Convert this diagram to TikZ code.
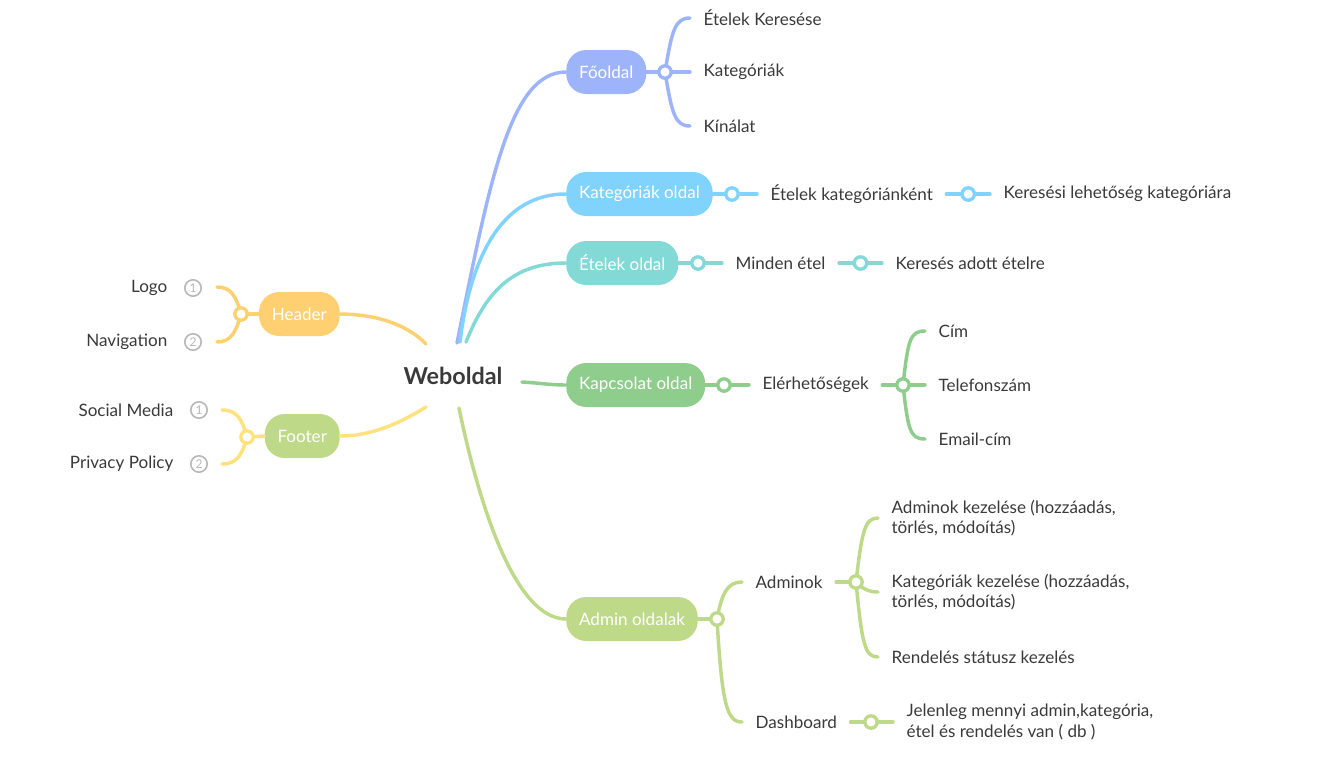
\documentclass[tikz,border=0pt]{standalone}
\usepackage{fontspec}
\setmainfont{Lato}
\usetikzlibrary{calc}
\definecolor{cBlue}{HTML}{9DB4FB}
\definecolor{cSky}{HTML}{80D3FD}
\definecolor{cTeal}{HTML}{82D9D6}
\definecolor{cGreen}{HTML}{8FCD8D}
\definecolor{cLime}{HTML}{BED987}
\definecolor{cOrange}{HTML}{FFD072}
\definecolor{cYellow}{HTML}{FFE17D}
\definecolor{txt}{HTML}{3A3A3A}
\definecolor{numgray}{HTML}{B8B8B8}
\begin{document}
\begin{tikzpicture}[x=0.75pt,y=-0.75pt,
  lbl/.style={font=\fontsize{12.8}{15.5}\selectfont},
  pill/.style={lbl, rounded corners=15pt, minimum height=33pt, inner xsep=9.6pt, text=white},
  leaf/.style={lbl, text=txt, inner xsep=10pt, inner ysep=2pt, align=left},
  conn/.style={line width=2.6pt, line cap=round},
  knob/.style={circle, draw, fill=white, line width=2.5pt, minimum size=9.3pt, inner sep=0pt},
  num/.style={circle, draw=numgray, line width=1.2pt, minimum size=12.3pt, inner sep=0pt, text=numgray, font=\fontsize{9}{9}\selectfont}]
\useasboundingbox (0,0) rectangle (1337,776);

% root
\node[font=\fontsize{17.5}{20}\bfseries\selectfont, text=txt] (web) at (453,376) {Weboldal};
\coordinate (rFo) at (457,343);
\coordinate (rKat) at (460,342);
\coordinate (rEt) at (466,342);
\coordinate (rKap) at (522,382);
\coordinate (rAdm) at (459,408);
\coordinate (rHdr) at (426,344);
\coordinate (rFtr) at (426,407);

% main nodes
\node[pill, fill=cBlue, anchor=west] (fo) at (566,72) {Főoldal};
\node[pill, fill=cSky, anchor=west] (kat) at (566,194) {Kategóriák oldal};
\node[pill, fill=cTeal, anchor=west] (et) at (566,263) {Ételek oldal};
\node[pill, fill=cGreen, anchor=west] (kap) at (566,385) {Kapcsolat oldal};
\node[pill, fill=cLime, anchor=west] (adm) at (566,619) {Admin oldalak};
\node[pill, fill=cOrange, anchor=east] (hdr) at (340,314) {Header};
\node[pill, fill=cLime, anchor=east] (ftr) at (340,436) {Footer};

% root connectors
\draw[conn, cBlue] (rFo) .. controls (490,180) and (510,72) .. (fo.west);
\draw[conn, cSky] (rKat) .. controls (470,260) and (500,194) .. (kat.west);
\draw[conn, cTeal] (rEt) .. controls (485,295) and (510,263) .. (et.west);
\draw[conn, cGreen] (rKap) .. controls (540,383) and (550,385) .. (kap.west);
\draw[conn, cLime] (rAdm) .. controls (478,500) and (514,619) .. (adm.west);
\draw[conn, cOrange] (hdr.east) .. controls (370,314) and (405,322) .. (rHdr);
\draw[conn, cYellow] (ftr.east) .. controls (375,436) and (405,420) .. (rFtr);

% Header
\node[lbl, text=txt, anchor=east] (logo) at (172,288) {Logo};
\node[num] (n1) at (193,288) {1};
\node[lbl, text=txt, anchor=east] (nav) at (172,342) {Navigation};
\node[num] (n2) at (193,342) {2};
\coordinate (hLogo) at (217,287);
\coordinate (hNav) at (217,342);
\coordinate (hk) at (241,314);
\draw[conn, cOrange] (hdr.west) -- (hk);
\draw[conn, cOrange] (hk) .. controls (236,296) and (231,287) .. (hLogo);
\draw[conn, cOrange] (hk) .. controls (236,332) and (231,342) .. (hNav);
\node[knob, draw=cOrange] (hknob) at (hk) {};

% Footer
\node[lbl, text=txt, anchor=east] (soc) at (178,410) {Social Media};
\node[num] (n3) at (199,410) {1};
\node[lbl, text=txt, anchor=east] (priv) at (178,464) {Privacy Policy};
\node[num] (n4) at (199,464) {2};
\coordinate (fSoc) at (222,410);
\coordinate (fPriv) at (222,464);
\coordinate (fk) at (247,437);
\draw[conn, cYellow] (ftr.west) -- (fk);
\draw[conn, cYellow] (fk) .. controls (242,419) and (237,410) .. (fSoc);
\draw[conn, cYellow] (fk) .. controls (242,455) and (237,464) .. (fPriv);
\node[knob, draw=cYellow] (fknob) at (fk) {};

% Főoldal
\node[leaf, anchor=west] (fo1) at (690,18) {Ételek Keresése};
\node[leaf, anchor=west] (fo2) at (690,72) {Kategóriák};
\node[leaf, anchor=west] (fo3) at (690,126) {Kínálat};
\coordinate (fok) at (665,72);
\draw[conn, cBlue] (fo.east) -- (fo2.west);
\draw[conn, cBlue] (fok) .. controls (672,30) and (675,18) .. (fo1.west);
\draw[conn, cBlue] (fok) .. controls (672,114) and (675,126) .. (fo3.west);
\node[knob, draw=cBlue] (foknob) at (fok) {};

% Kategóriák oldal
\node[leaf, anchor=west] (kat1) at (757,194) {Ételek kategóriánként};
\node[leaf, anchor=west] (kat2) at (990,194) {Keresési lehetőség kategóriára};
\draw[conn, cSky] (kat.east) -- (kat1.west);
\draw[conn, cSky] (kat1.east) -- (kat2.west);
\node[knob, draw=cSky] (katk1) at (732,194) {};
\node[knob, draw=cSky] (katk2) at ($(kat1.east)!0.5!(kat2.west)$) {};

% Ételek oldal
\node[leaf, anchor=west] (et1) at (722,263) {Minden étel};
\node[leaf, anchor=west] (et2) at (882,263) {Keresés adott ételre};
\draw[conn, cTeal] (et.east) -- (et1.west);
\draw[conn, cTeal] (et1.east) -- (et2.west);
\node[knob, draw=cTeal] (etk1) at (698,263) {};
\node[knob, draw=cTeal] (etk2) at ($(et1.east)!0.5!(et2.west)$) {};

% Kapcsolat oldal
\node[leaf, anchor=west] (kap1) at (749,385) {Elérhetőségek};
\node[leaf, anchor=west] (kc1) at (925,331) {Cím};
\node[leaf, anchor=west] (kc2) at (925,385) {Telefonszám};
\node[leaf, anchor=west] (kc3) at (925,439) {Email-cím};
\coordinate (kapk) at (903,385);
\draw[conn, cGreen] (kap.east) -- (kap1.west);
\draw[conn, cGreen] (kap1.east) -- (kc2.west);
\draw[conn, cGreen] (kapk) .. controls (908,340) and (910,331) .. (kc1.west);
\draw[conn, cGreen] (kapk) .. controls (908,430) and (910,439) .. (kc3.west);
\node[knob, draw=cGreen] (kapk1) at (724,385) {};
\node[knob, draw=cGreen] (kapk2) at (kapk) {};

% Admin oldalak
\node[leaf, anchor=west] (ad1) at (742,582) {Adminok};
\node[leaf, anchor=west] (ad2) at (742,722) {Dashboard};
\coordinate (admk) at (717,619);
\draw[conn, cLime] (adm.east) -- (admk);
\draw[conn, cLime] (admk) .. controls (722,592) and (728,582) .. (ad1.west);
\draw[conn, cLime] (admk) .. controls (722,705) and (727,722) .. (ad2.west);
\node[knob, draw=cLime] (admknob) at (admk) {};

\node[leaf, anchor=west] (a11) at (878,518) {Adminok kezelése (hozzáadás,\\törlés, módoítás)};
\node[leaf, anchor=west] (a12) at (878,592) {Kategóriák kezelése (hozzáadás,\\törlés, módoítás)};
\node[leaf, anchor=west] (a13) at (878,657) {Rendelés státusz kezelés};
\coordinate (ak) at (856,582);
\draw[conn, cLime] (ad1.east) -- (ak);
\draw[conn, cLime] (ak) .. controls (862,530) and (865,518) .. (a11.west);
\draw[conn, cLime] (ak) .. controls (862,588) and (868,592) .. (a12.west);
\draw[conn, cLime] (ak) .. controls (862,645) and (865,657) .. (a13.west);
\node[knob, draw=cLime] (aknob) at (ak) {};

\node[leaf, anchor=west] (d1) at (893,722) {Jelenleg mennyi admin,kategória,\\étel és rendelés van ( db )};
\draw[conn, cLime] (ad2.east) -- (d1.west);
\node[knob, draw=cLime] (dknob) at (871,722) {};
\end{tikzpicture}
\end{document}
